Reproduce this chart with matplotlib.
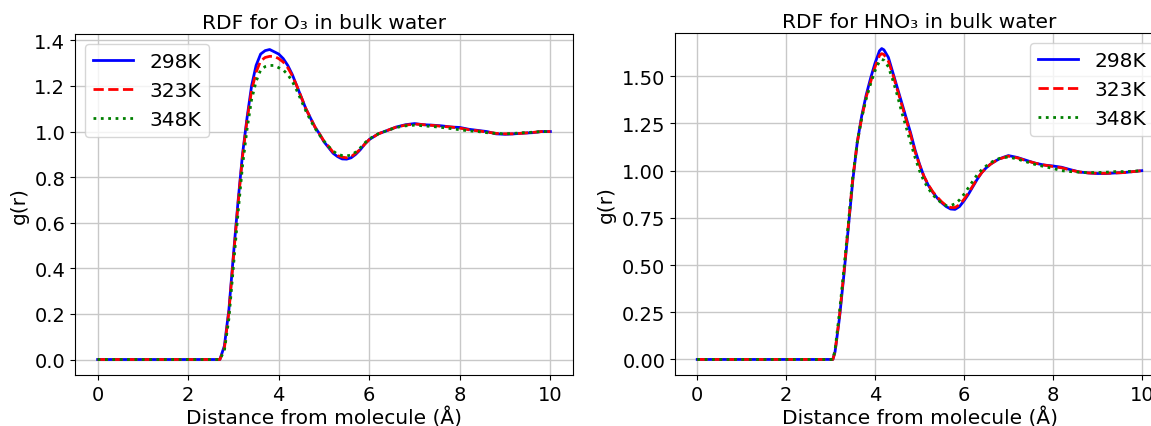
import matplotlib
matplotlib.use("Agg")
import matplotlib.pyplot as plt
import numpy as np

# ---------------- data ----------------
r_o3 = [0.0, 0.5, 1.0, 1.5, 2.0, 2.5, 2.7, 2.8, 2.9, 3.0, 3.1, 3.2, 3.3, 3.4, 3.5, 3.6,
        3.7, 3.8, 3.9, 4.0, 4.1, 4.2, 4.3, 4.4, 4.5, 4.6, 4.7, 4.8, 4.9, 5.0,
        5.1, 5.2, 5.3, 5.4, 5.5, 5.6, 5.7, 5.8, 5.9, 6.0, 6.2, 6.4, 6.6, 6.8,
        7.0, 7.2, 7.4, 7.6, 7.8, 8.0, 8.2, 8.4, 8.6, 8.8, 9.0, 9.2, 9.4, 9.6, 9.8, 10.0]
g_o3_298 = [0, 0, 0, 0, 0, 0, 0.0, 0.06, 0.22, 0.46, 0.69, 0.90, 1.06, 1.20, 1.29, 1.34,
            1.355, 1.36, 1.35, 1.34, 1.32, 1.29, 1.25, 1.20, 1.15, 1.10, 1.06, 1.02, 0.99, 0.955,
            0.93, 0.905, 0.89, 0.88, 0.879, 0.885, 0.90, 0.92, 0.945, 0.965, 0.99, 1.005, 1.02, 1.03,
            1.035, 1.03, 1.028, 1.025, 1.02, 1.018, 1.01, 1.005, 1.0, 0.99, 0.988, 0.99, 0.993, 0.995, 1.0, 1.0]
g_o3_323 = [0, 0, 0, 0, 0, 0, 0.0, 0.05, 0.21, 0.45, 0.68, 0.89, 1.05, 1.18, 1.26, 1.31,
            1.325, 1.33, 1.33, 1.32, 1.305, 1.28, 1.245, 1.20, 1.15, 1.10, 1.06, 1.02, 0.99, 0.958,
            0.935, 0.91, 0.895, 0.888, 0.885, 0.89, 0.905, 0.922, 0.945, 0.965, 0.99, 1.005, 1.02, 1.028,
            1.033, 1.03, 1.027, 1.023, 1.02, 1.015, 1.008, 1.003, 0.998, 0.992, 0.99, 0.99, 0.993, 0.996, 1.0, 1.0]
g_o3_348 = [0, 0, 0, 0, 0, 0, 0.0, 0.04, 0.18, 0.41, 0.64, 0.85, 1.01, 1.14, 1.22, 1.27,
            1.285, 1.29, 1.29, 1.28, 1.27, 1.25, 1.22, 1.18, 1.135, 1.09, 1.05, 1.015, 0.985, 0.958,
            0.935, 0.915, 0.90, 0.895, 0.893, 0.897, 0.91, 0.928, 0.95, 0.968, 0.99, 1.005, 1.018, 1.025,
            1.028, 1.025, 1.022, 1.018, 1.013, 1.008, 1.003, 1.0, 0.995, 0.992, 0.99, 0.992, 0.995, 0.997, 1.0, 1.0]

r_hno3 = [0.0, 0.5, 1.0, 1.5, 2.0, 2.5, 3.0, 3.05, 3.1, 3.2, 3.3, 3.4, 3.5, 3.6, 3.7, 3.8,
          3.9, 4.0, 4.1, 4.15, 4.2, 4.3, 4.4, 4.5, 4.6, 4.7, 4.8, 4.9, 5.0, 5.1,
          5.2, 5.3, 5.4, 5.5, 5.6, 5.7, 5.8, 5.9, 6.0, 6.1, 6.2, 6.3, 6.4, 6.5,
          6.6, 6.7, 6.8, 6.9, 7.0, 7.2, 7.4, 7.6, 7.8, 8.0, 8.2, 8.4, 8.6, 8.8,
          9.0, 9.2, 9.4, 9.6, 9.8, 10.0]
g_hno3_298 = [0, 0, 0, 0, 0, 0, 0, 0.0, 0.04, 0.22, 0.45, 0.70, 0.95, 1.15, 1.29, 1.40,
              1.49, 1.57, 1.635, 1.647, 1.64, 1.60, 1.52, 1.44, 1.36, 1.28, 1.20, 1.11, 1.035, 0.97,
              0.922, 0.885, 0.855, 0.83, 0.81, 0.797, 0.795, 0.81, 0.84, 0.875, 0.915, 0.955, 0.99, 1.015,
              1.035, 1.05, 1.063, 1.072, 1.08, 1.07, 1.055, 1.04, 1.03, 1.025, 1.018, 1.005, 0.993, 0.988,
              0.985, 0.985, 0.988, 0.99, 0.995, 1.0]
g_hno3_323 = [0, 0, 0, 0, 0, 0, 0, 0.0, 0.04, 0.23, 0.46, 0.71, 0.96, 1.15, 1.28, 1.39,
              1.47, 1.55, 1.61, 1.62, 1.615, 1.58, 1.51, 1.43, 1.35, 1.27, 1.19, 1.10, 1.03, 0.97,
              0.925, 0.888, 0.86, 0.835, 0.815, 0.805, 0.805, 0.82, 0.848, 0.882, 0.92, 0.958, 0.99, 1.015,
              1.035, 1.05, 1.062, 1.07, 1.077, 1.068, 1.053, 1.04, 1.03, 1.022, 1.015, 1.003, 0.993, 0.988,
              0.986, 0.986, 0.988, 0.99, 0.995, 1.0]
g_hno3_348 = [0, 0, 0, 0, 0, 0, 0, 0.0, 0.05, 0.25, 0.48, 0.72, 0.97, 1.15, 1.28, 1.38,
              1.46, 1.53, 1.58, 1.59, 1.585, 1.55, 1.48, 1.40, 1.31, 1.23, 1.15, 1.07, 1.0, 0.945,
              0.905, 0.872, 0.848, 0.828, 0.815, 0.815, 0.825, 0.845, 0.875, 0.91, 0.945, 0.98, 1.005, 1.025,
              1.043, 1.055, 1.065, 1.07, 1.072, 1.062, 1.047, 1.033, 1.022, 1.012, 1.0, 0.995, 0.992, 0.99,
              0.99, 0.992, 0.995, 0.995, 0.997, 1.0]

temps = ["298K", "323K", "348K"]
titles = ["RDF for O\u2083 in bulk water", "RDF for HNO\u2083 in bulk water"]
xlabel = "Distance from molecule (\u00c5)"
ylabel = "g(r)"

# ---------------- plot ----------------
plt.rcParams['font.family'] = ['DejaVu Sans']
W, H = 1151, 427
fig = plt.figure(figsize=(W / 100, H / 100), dpi=100)

def frac(x0, y0, x1, y1):
    return [x0 / W, 1 - y1 / H, (x1 - x0) / W, (y1 - y0) / H]

ax1 = fig.add_axes(frac(75, 35, 573, 376))
ax2 = fig.add_axes(frac(675, 34, 1164, 376))

styles = [dict(color="blue", linestyle="-"),
          dict(color="red", linestyle="--"),
          dict(color="green", linestyle=":")]

for ax, r, series, title, loc in [
        (ax1, r_o3, [g_o3_298, g_o3_323, g_o3_348], titles[0], "upper left"),
        (ax2, r_hno3, [g_hno3_298, g_hno3_323, g_hno3_348], titles[1], "upper right")]:
    for g, st, lab in zip(series, styles, temps):
        ax.plot(r, g, lw=2, label=lab, **st)
    ax.set_title(title, fontsize=14.5, pad=4)
    ax.set_xlabel(xlabel, fontsize=14.5, labelpad=2)
    ax.set_ylabel(ylabel, fontsize=14.5)
    ax.tick_params(labelsize=14)
    ax.grid(True, color="#c8c8c8", linewidth=1)
    ax.set_xticks([0, 2, 4, 6, 8, 10])
    ax.legend(loc=loc, fontsize=14.5)

ax2.set_yticks([0.0, 0.25, 0.5, 0.75, 1.0, 1.25, 1.5])
ax2.yaxis.set_major_formatter(matplotlib.ticker.FormatStrFormatter("%.2f"))
ax1.yaxis.set_major_formatter(matplotlib.ticker.FormatStrFormatter("%.1f"))

fig.savefig("out.png", dpi=100)
